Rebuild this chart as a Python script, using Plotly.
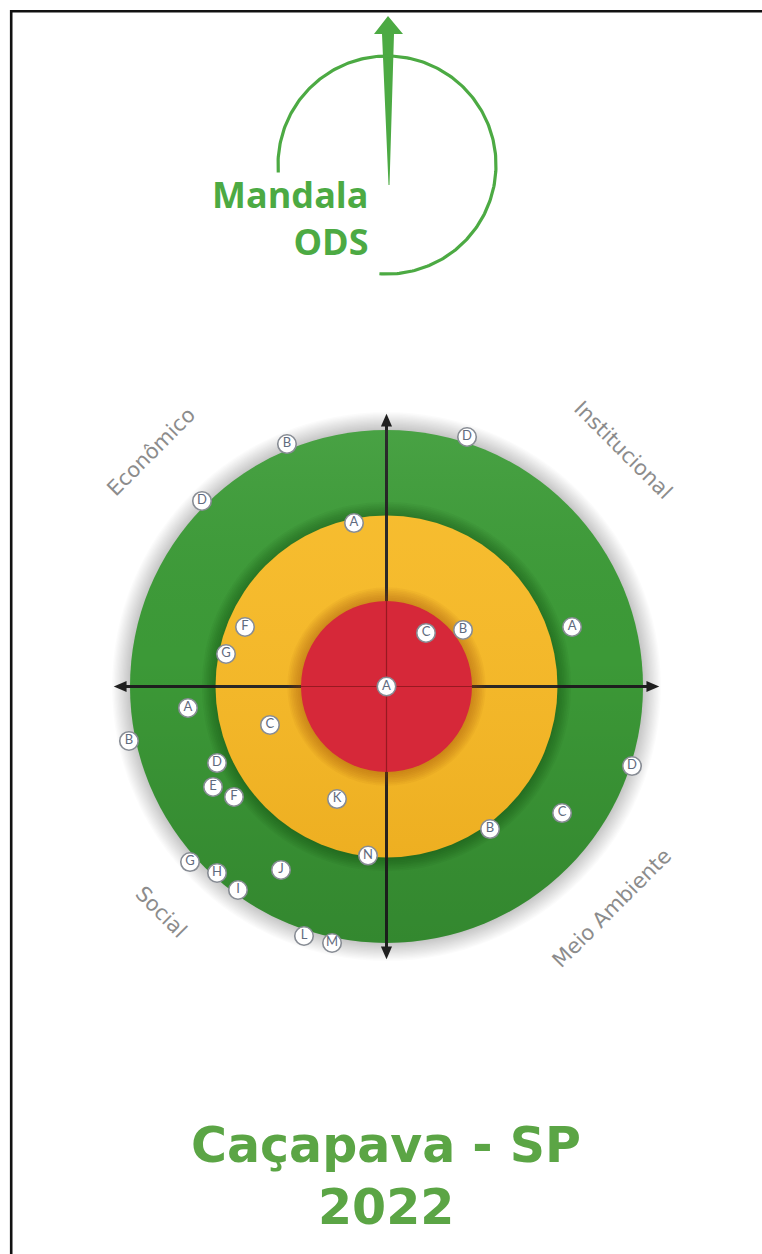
import numpy as np
import plotly.graph_objects as go

# ---------------- data ----------------
W, H = 762, 1254
CX, CY, U = 386.5, 686.5, 85.5  # mandala centre in px, px per ring unit

ring_radii = [3, 2, 1]
ring_colors = ["#3d9c38", "#f6b924", "#d62839"]

quadrants = ["Econômico", "Institucional", "Social", "Meio Ambiente"]

eco_labels = ["B", "D", "A", "F", "G"]
eco_x = [-1.164, -2.158, -0.380, -1.655, -1.877]
eco_y = [2.836, 2.170, 1.912, 0.696, 0.380]

inst_labels = ["D", "A", "B", "C"]
inst_x = [0.942, 2.170, 0.895, 0.462]
inst_y = [2.918, 0.696, 0.661, 0.626]

centro_labels = ["A"]
centro_x = [0.0]
centro_y = [0.0]

soc_labels = ["A", "B", "C", "D", "E", "F", "G", "H", "I", "J", "K", "L", "M", "N"]
soc_x = [-2.322, -3.012, -1.363, -1.982, -2.029, -1.784, -2.298, -1.982, -1.737, -1.234, -0.579, -0.965, -0.637, -0.216]
soc_y = [-0.251, -0.637, -0.450, -0.895, -1.175, -1.292, -2.053, -2.181, -2.380, -2.146, -1.316, -2.918, -3.000, -1.977]

amb_labels = ["B", "C", "D"]
amb_x = [1.211, 2.053, 2.871]
amb_y = [-1.667, -1.480, -0.930]

title_line1 = "Caçapava - SP"
title_line2 = "2022"
logo_text = "Mandala<br>ODS"


# ---------------- helpers (page px -> data units) ----------------
def X(px):
    return (px - CX) / U


def Y(py):
    return (CY - py) / U


def circ(r, fill, cx=0.0, cy=0.0):
    return dict(type="circle", xref="x", yref="y", x0=cx - r, x1=cx + r,
                y0=cy - r, y1=cy + r, fillcolor=fill, line=dict(width=0), layer="below")


def path_px(pts, fill):
    d = "M " + " L ".join(f"{X(a):.4f},{Y(b):.4f}" for a, b in pts) + " Z"
    return dict(type="path", xref="x", yref="y", path=d, fillcolor=fill,
                line=dict(width=0), layer="below")


shapes = []

# outer soft halo
for k in range(14, 0, -1):
    shapes.append(circ(ring_radii[0] + 0.015 * k, "rgba(0,0,0,0.016)"))
# green ring
shapes.append(circ(ring_radii[0], ring_colors[0]))
# shadow of yellow on green
for k in range(8, 0, -1):
    shapes.append(circ(ring_radii[1] + 0.02 * k, "rgba(0,40,0,0.042)"))
# yellow
shapes.append(circ(ring_radii[1], ring_colors[1]))

# axes (thick) with arrowheads
AX = 3.19
AL, AW = 0.15, 0.065
axis_col = "#1f1f1f"
shapes.append(dict(type="line", xref="x", yref="y", x0=-AX + AL * 0.6, x1=AX - AL * 0.6, y0=0, y1=0,
                   line=dict(color=axis_col, width=3), layer="below"))
shapes.append(dict(type="line", xref="x", yref="y", y0=-AX + AL * 0.6, y1=AX - AL * 0.6, x0=0, x1=0,
                   line=dict(color=axis_col, width=3), layer="below"))
for sx, sy in [(1, 0), (-1, 0), (0, 1), (0, -1)]:
    tip = (sx * AX, sy * AX)
    base = (sx * (AX - AL), sy * (AX - AL))
    px_, py_ = -sy, sx
    p1 = (base[0] + px_ * AW, base[1] + py_ * AW)
    p2 = (base[0] - px_ * AW, base[1] - py_ * AW)
    d = f"M {tip[0]},{tip[1]} L {p1[0]},{p1[1]} L {p2[0]},{p2[1]} Z"
    shapes.append(dict(type="path", xref="x", yref="y", path=d, fillcolor=axis_col,
                       line=dict(width=0), layer="below"))

# shadow of red on yellow
for k in range(8, 0, -1):
    shapes.append(circ(ring_radii[2] + 0.02 * k, "rgba(160,70,0,0.06)"))
# red
shapes.append(circ(ring_radii[2], ring_colors[2]))
# thin axis lines over red
shapes.append(dict(type="line", xref="x", yref="y", x0=-1, x1=1, y0=0, y1=0,
                   line=dict(color="rgba(90,10,10,0.5)", width=1.2), layer="below"))
shapes.append(dict(type="line", xref="x", yref="y", y0=-1, y1=1, x0=0, x1=0,
                   line=dict(color="rgba(90,10,10,0.5)", width=1.2), layer="below"))

# logo needle
logo_green = "#4caa43"
shapes.append(path_px([(374, 34), (388, 16), (403, 34), (394, 34), (389.5, 185),
                       (388.5, 185), (382, 34)], logo_green))

# frame border (top and left edges)
shapes.append(dict(type="path", xref="x", yref="y",
                   path=f"M {X(11.2)},{Y(H + 5)} L {X(11.2)},{Y(11.2)} L {X(W + 5)},{Y(11.2)}",
                   line=dict(color="#111111", width=2.6)))

fig = go.Figure()

# light/shade overlay on rings (top lighter, bottom darker)
t = np.linspace(0, 2 * np.pi, 181)
for r_out, r_in, cs in [
    (ring_radii[0], ring_radii[1], [[0, "rgba(0,30,0,0.16)"], [0.55, "rgba(0,0,0,0.02)"], [1, "rgba(255,255,255,0.06)"]]),
    (ring_radii[1], ring_radii[2], [[0, "rgba(140,60,0,0.08)"], [1, "rgba(255,255,255,0.05)"]]),
]:
    xs = np.concatenate([r_out * np.cos(t), r_in * np.cos(t[::-1])])
    ys = np.concatenate([r_out * np.sin(t), r_in * np.sin(t[::-1])])
    fig.add_trace(go.Scatter(x=xs, y=ys, mode="lines", line=dict(width=0), fill="toself",
                             fillgradient=dict(type="vertical", colorscale=cs),
                             hoverinfo="skip", showlegend=False))

# logo arc
th = np.radians(np.linspace(184, -94, 240))
arc_px_x = 387 + 109 * np.cos(th)
arc_px_y = 165 - 109 * np.sin(th)
fig.add_trace(go.Scatter(x=X(arc_px_x), y=Y(arc_px_y), mode="lines",
                         line=dict(color=logo_green, width=3.2), hoverinfo="skip", showlegend=False))

# points
for labs, xs, ys in [(eco_labels, eco_x, eco_y), (inst_labels, inst_x, inst_y),
                     (centro_labels, centro_x, centro_y), (soc_labels, soc_x, soc_y),
                     (amb_labels, amb_x, amb_y)]:
    fig.add_trace(go.Scatter(
        x=xs, y=ys, text=labs, mode="markers+text", textposition="middle center",
        marker=dict(size=18.5, color="white", line=dict(color="#878c94", width=1.6)),
        textfont=dict(size=13, color="#5f6b7e", family="Lato"),
        showlegend=False, hoverinfo="text"))

ann = []
lab_font = dict(family="DejaVu Sans", size=21, color="#8c8c8c")
for name, (px, py), ang in zip(quadrants,
                               [(151, 452), (623, 450), (161, 912), (612, 908)],
                               [-45, 45, 45, -45]):
    ann.append(dict(x=X(px), y=Y(py), xref="x", yref="y", text=name, showarrow=False,
                    textangle=ang, font=lab_font, xanchor="center", yanchor="middle"))

logo_font = dict(family="Open Sans", size=36, color=logo_green, weight="bold")
ann.append(dict(x=X(371), y=Y(218), xref="x", yref="y", text=logo_text, showarrow=False,
                font=logo_font, xanchor="right", yanchor="middle", align="right"))

title_font = dict(family="DejaVu Sans", size=49, color="#5ba545", weight="bold")
ann.append(dict(x=X(386), y=Y(1145), xref="x", yref="y", text=title_line1, showarrow=False,
                font=title_font, xanchor="center", yanchor="middle"))
ann.append(dict(x=X(386), y=Y(1207), xref="x", yref="y", text=title_line2, showarrow=False,
                font=title_font, xanchor="center", yanchor="middle"))

fig.update_layout(
    width=W, height=H, autosize=False,
    margin=dict(l=0, r=0, t=0, b=0, pad=0),
    paper_bgcolor="white", plot_bgcolor="white",
    xaxis=dict(range=[X(0), X(W)], visible=False, fixedrange=True),
    yaxis=dict(range=[Y(H), Y(0)], visible=False, fixedrange=True),
    shapes=shapes, annotations=ann, showlegend=False,
)

fig.write_html("out.html", config={"displayModeBar": False},
               post_script="document.body.style.margin='0';"
                           "document.documentElement.style.overflow='hidden';")
